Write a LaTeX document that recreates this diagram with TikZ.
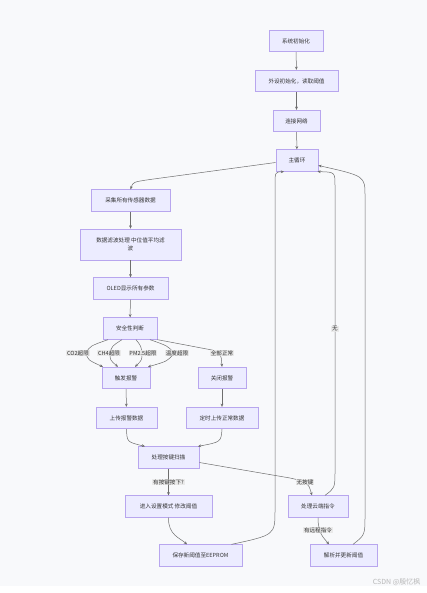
\documentclass[tikz,border=0pt]{standalone}
\usepackage{fontspec}
\newfontfamily\cjk{Noto Sans CJK SC}
\usetikzlibrary{arrows.meta}
\definecolor{mfill}{HTML}{ECECFF}
\definecolor{mborder}{HTML}{B8A6EE}
\definecolor{mline}{HTML}{6E6E6E}
\definecolor{mtext}{HTML}{333333}
\definecolor{lblbg}{HTML}{E8E8E8}
\definecolor{bgc}{HTML}{F8F9FB}
\tikzset{
  box/.style={draw=mborder, fill=mfill, line width=0.8pt, minimum height=21.5pt, inner sep=0pt,
    font=\cjk\fontsize{5.6}{8}\selectfont, text=mtext, align=center},
  arr/.style={draw=mline, line width=0.5pt, -{Stealth[length=3.2pt,width=2.8pt]}},
  lbl/.style={fill=lblbg, fill opacity=0.85, text opacity=1, inner sep=0.8pt,
    font=\cjk\fontsize{5.6}{7}\selectfont, text=mtext},
  loopline/.style={draw=mline, line width=0.5pt, -{Stealth[length=3.2pt,width=2.8pt]}}
}
\begin{document}
\begin{tikzpicture}[x=1pt,y=-1pt]
\useasboundingbox (0,0) rectangle (427,593);
\fill[bgc] (0,0) rectangle (427,593);
\fill[white] (0,586) rectangle (427,593);

\node[box, minimum width=54pt] (init) at (296,41) {系统初始化};
\node[box, minimum width=83pt] (periph) at (296.5,81) {外设初始化，读取阈值};
\node[box, minimum width=47pt] (net) at (296.5,121) {连接网络};
\node[box, minimum width=42pt] (main) at (297,160.5) {主循环};
\node[box, minimum width=79pt] (collect) at (130.5,200.5) {采集所有传感器数据};
\node[box, minimum width=101pt, minimum height=31pt] (filter) at (130.5,244.5) {数据滤波处理 中位值平均滤\\波};
\node[box, minimum width=75pt] (oled) at (130.5,288.5) {OLED显示所有参数};
\node[box, minimum width=54pt] (safety) at (130,328.5) {安全性判断};
\node[box, minimum width=48pt] (alarm) at (126,378) {触发报警};
\node[box, minimum width=48pt] (off) at (222,378) {关闭报警};
\node[box, minimum width=61pt] (upload) at (126.5,418) {上传报警数据};
\node[box, minimum width=72pt] (timed) at (222,418) {定时上传正常数据};
\node[box, minimum width=61pt] (keyscan) at (168.5,457.5) {处理按键扫描};
\node[box, minimum width=87pt] (setup) at (168.5,506.5) {进入设置模式 修改阈值};
\node[box, minimum width=60pt] (cloud) at (318,506.5) {处理云端指令};
\node[box, minimum width=83pt] (eeprom) at (200.5,555.5) {保存新阈值至EEPROM};
\node[box, minimum width=67pt] (parse) at (343.5,555.5) {解析并更新阈值};

\draw[arr] (init) -- (periph);
\draw[arr] (periph) -- (net);
\draw[arr] (net) -- (main);
\draw[arr] ([yshift=-2pt]main.west) -- (150,179.5) .. controls (133,182) .. (collect.north);
\draw[arr] (collect) -- (filter);
\draw[arr] (filter) -- (oled);
\draw[arr] (oled) -- (safety);

\draw[arr] ([xshift=-22pt]safety.south) .. controls (90,346) .. (86,353) .. controls (88,360) .. ([xshift=-23pt]alarm.north);
\draw[arr] ([xshift=-8pt]safety.south) .. controls (112,346) .. (110,353) .. controls (110,360) .. ([xshift=-8pt]alarm.north);
\draw[arr] ([xshift=6pt]safety.south) .. controls (141,346) .. (142,353) .. controls (142,360) .. ([xshift=9pt]alarm.north);
\draw[arr] ([xshift=20pt]safety.south) .. controls (168,346) .. (174,353) .. controls (168,361) .. ([xshift=22pt]alarm.north);
\draw[arr] (safety.south east) -- (212,350) .. controls (221,353) .. (off.north);
\node[lbl] (lco2) at (78,353) {CO2超限};
\node[lbl] (lch4) at (109,353) {CH4超限};
\node[lbl] (lpm) at (143,353) {PM2.5超限};
\node[lbl] (ltemp) at (177,353) {温度超限};
\node[lbl] (lok) at (222,353) {全部正常};

\draw[arr] (alarm) -- (upload);
\draw[arr] (off) -- (timed);
\draw[arr] (upload.south) .. controls (127,442) .. ([xshift=-23.5pt]keyscan.north);
\draw[arr] (timed.south) .. controls (221,442) .. ([xshift=29.5pt]keyscan.north);

\draw[arr] (keyscan) -- node[lbl] (lkey) {有按键按下?} (setup);
\draw[arr] ([yshift=-5pt]keyscan.east) -- (290,478) .. controls (308,482) .. ([xshift=-6pt]cloud.north);
\node[lbl] (lnokey) at (305,482) {无按键};

\draw[arr] (setup.south) .. controls (168,535) and (180,538) .. ([xshift=-13.5pt]eeprom.north);
\draw[arr] (cloud.south) .. controls (318,534) and (324,538) .. ([xshift=-14.5pt]parse.north);
\node[lbl] (lremote) at (318,530) {有远程指令};

\draw[loopline] ([xshift=31pt]eeprom.north) .. controls (275,535) .. (275,510) -- (275,186) .. controls (275,172) .. ([xshift=-13pt]main.south);
\draw[loopline] ([xshift=7pt]cloud.north) .. controls (335,488) .. (335,470) -- (335,186) .. controls (335,172) .. ([xshift=20.5pt]main.south);
\node[lbl] (lnone) at (335,329) {无};
\draw[loopline] ([xshift=9.5pt]parse.north) .. controls (365,535) .. (365,515) -- (365,196) .. controls (365,176) .. ([yshift=-5pt]main.east);

\node[font=\cjk\fontsize{7}{8}\selectfont, text=black!28, anchor=east] (wm) at (424,582) {CSDN @殷忆枫};
\end{tikzpicture}
\end{document}
